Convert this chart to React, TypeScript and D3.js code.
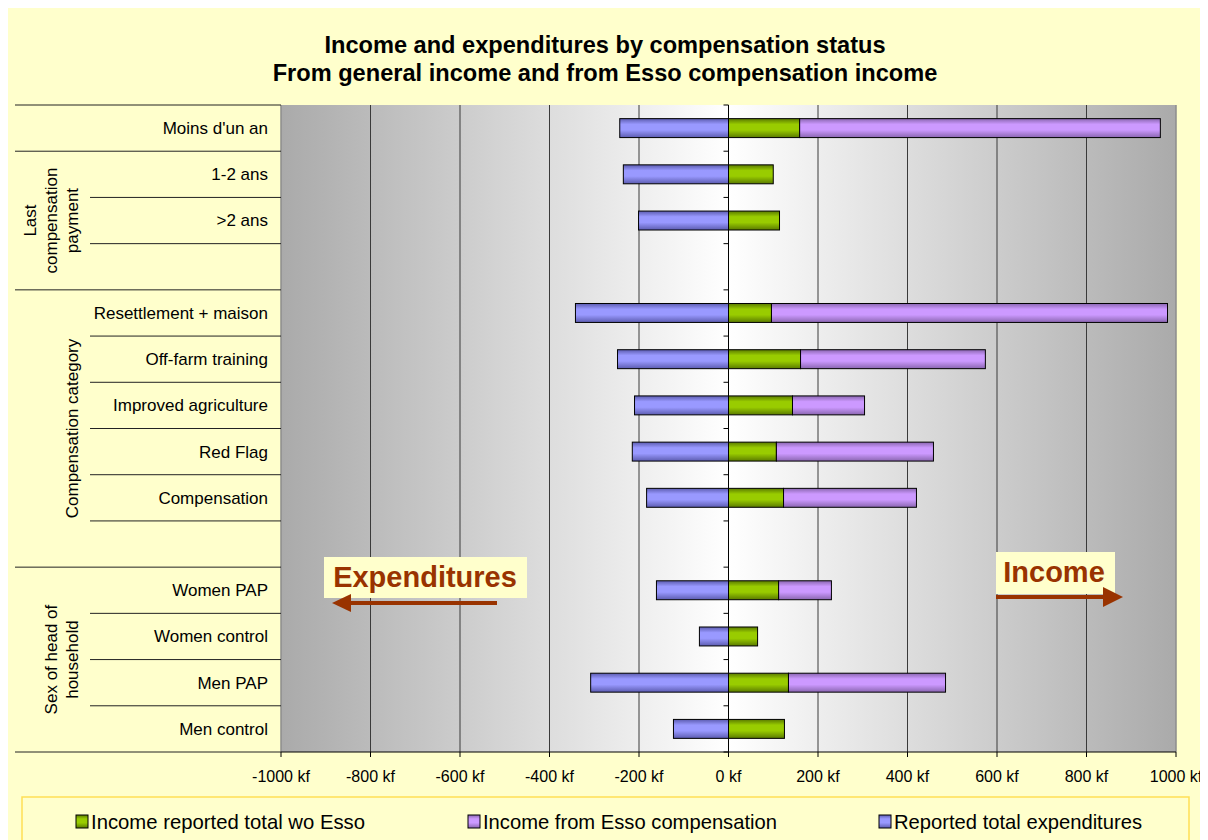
import React from "react";
import * as d3 from "d3";

const categories = [
  "Moins d'un an", "1-2 ans", ">2 ans", "",
  "Resettlement + maison", "Off-farm training", "Improved agriculture", "Red Flag", "Compensation", "",
  "Women PAP", "Women control", "Men PAP", "Men control",
];
const incomeWoEsso = [159, 100, 114, 0, 96, 161, 143, 107, 123, 0, 112, 65, 134, 125];
const incomeEsso = [806, 0, 0, 0, 885, 413, 161, 351, 297, 0, 118, 0, 351, 0];
const expenditures = [-243, -235, -201, 0, -342, -248, -210, -215, -183, 0, -161, -65, -308, -123];

const groupLabels = [[], ["Last", "compensation", "payment"], ["Compensation category"], ["Sex of head of", "household"]];
const groupStarts = [0, 1, 4, 10];
const groupEnds = [1, 4, 10, 14];

const xTicks = [-1000, -800, -600, -400, -200, 0, 200, 400, 600, 800, 1000];

const seriesNames = ["Income reported total wo Esso", "Income from Esso compensation", "Reported total expenditures"];
const seriesColors = ["#99cc00", "#cc99ff", "#9999ff"];
const seriesDark = ["#5a7a00", "#8a66b0", "#5c5cb0"];

const FONT = "Arial, 'Liberation Sans', Helvetica, sans-serif";

export default function App() {
  const x = d3.scaleLinear().domain([-1000, 1000]).range([281, 1176]);
  const keys = categories.map((_, i) => String(i));
  const y = d3.scaleBand<string>().domain(keys).range([105, 752]).padding(0);
  const bw = y.bandwidth();
  const barH = bw * 0.41;
  const x0 = x(0);
  const top = 105, bottom = 752, left = 281, right = 1176;

  const bars: any[] = [];
  categories.forEach((c, i) => {
    const yc = (y(String(i)) as number) + bw / 2;
    const y0 = yc - barH / 2;
    if (expenditures[i] < 0) {
      bars.push({ x: x(expenditures[i]), w: x0 - x(expenditures[i]), y: y0, s: 2 });
    }
    if (incomeWoEsso[i] > 0) {
      bars.push({ x: x0, w: x(incomeWoEsso[i]) - x0, y: y0, s: 0 });
    }
    if (incomeEsso[i] > 0) {
      bars.push({ x: x(incomeWoEsso[i]), w: x(incomeWoEsso[i] + incomeEsso[i]) - x(incomeWoEsso[i]), y: y0, s: 1 });
    }
  });

  const boundaries = d3.range(categories.length + 1).map((i) => top + i * bw);
  const fullBounds = new Set([0, ...groupEnds]);

  const legendTextX = [91, 483, 894];
  const legendTextW = [274, 294, 248];

  return (
    <svg width={1200} height={832} style={{ display: "block" }} fontFamily={FONT}>
      <defs>
        <linearGradient id="bg" x1="0" x2="1" y1="0" y2="0">
          <stop offset="0" stopColor="#aaaaaa" />
          <stop offset="0.5" stopColor="#ffffff" />
          <stop offset="1" stopColor="#aaaaaa" />
        </linearGradient>
        {seriesColors.map((c, i) => (
          <linearGradient key={i} id={"g" + i} x1="0" x2="0" y1="0" y2="1">
            <stop offset="0" stopColor={seriesDark[i]} />
            <stop offset="0.3" stopColor={c} />
            <stop offset="0.6" stopColor={c} />
            <stop offset="1" stopColor={seriesDark[i]} />
          </linearGradient>
        ))}
      </defs>
      <g transform="translate(-8,-8)">
        <rect x={8} y={8} width={1200} height={840} fill="#ffffcc" />
        {/* title */}
        <text x={605} y={53} textAnchor="middle" fontWeight="bold" fontSize={23.6}>Income and expenditures by compensation status</text>
        <text x={605} y={81} textAnchor="middle" fontWeight="bold" fontSize={23.6}>From general income and from Esso compensation income</text>

        {/* plot area */}
        <rect x={left} y={top} width={right - left} height={bottom - top} fill="url(#bg)" />
        <line x1={left} x2={left} y1={top} y2={bottom} stroke="#8c8c8c" strokeWidth={1.5} />
        <line x1={right} x2={right} y1={top} y2={bottom} stroke="#8c8c8c" strokeWidth={1.5} />
        {xTicks.filter((t) => t !== 0 && Math.abs(t) !== 1000).map((t) => (
          <line key={t} x1={x(t)} x2={x(t)} y1={top} y2={bottom} stroke="#3a3a3a" strokeWidth={1} />
        ))}

        {/* left category grid */}
        {boundaries.map((b, i) => (
          <line key={i} x1={fullBounds.has(i) ? 15 : 90} x2={left} y1={b} y2={b} stroke="#222" strokeWidth={1} />
        ))}
        {categories.map((c, i) => (
          <text key={i} x={268} y={(y(String(i)) as number) + bw / 2} dy="0.35em" textAnchor="end" fontSize={17} fill="#000">{c}</text>
        ))}
        {groupLabels.map((lines, gi) => {
          const yc = (boundaries[groupStarts[gi]] + boundaries[groupEnds[gi]]) / 2;
          return lines.map((ln, li) => {
            const xc = 72 - (lines.length - 1 - li) * 21;
            return (
              <text key={gi + "-" + li} transform={`translate(${xc + 6},${yc}) rotate(-90)`} textAnchor="middle" fontSize={17}>{ln}</text>
            );
          });
        })}

        {/* bars */}
        {bars.map((b, i) => (
          <rect key={i} x={b.x} y={b.y} width={b.w} height={barH} fill={`url(#g${b.s})`} stroke="#000" strokeWidth={1} />
        ))}

        {/* y axis at 0 */}
        <line x1={x0} x2={x0} y1={top} y2={bottom} stroke="#000" strokeWidth={1} />
        {boundaries.map((b, i) => (
          <line key={i} x1={x0 - 5} x2={x0} y1={b} y2={b} stroke="#000" strokeWidth={1} />
        ))}

        {/* x axis */}
        <line x1={left} x2={right} y1={bottom} y2={bottom} stroke="#000" strokeWidth={1} />
        {xTicks.map((t) => (
          <g key={t}>
            <line x1={x(t)} x2={x(t)} y1={bottom} y2={bottom + 5} stroke="#000" />
            <text x={x(t)} y={782} textAnchor="middle" fontSize={16}>{t + " kf"}</text>
          </g>
        ))}

        {/* annotations */}
        <rect x={324} y={557} width={203} height={41} fill="#ffffcc" />
        <text x={425} y={587} textAnchor="middle" fontWeight="bold" fontSize={29} fill="#993300">Expenditures</text>
        <line x1={497} x2={348} y1={603} y2={603} stroke="#993300" strokeWidth={4} />
        <path d="M332,603 L351,594 L351,612 Z" fill="#993300" />

        <rect x={996} y={552} width={119} height={42} fill="#ffffcc" />
        <text x={1054} y={582} textAnchor="middle" fontWeight="bold" fontSize={29} fill="#993300">Income</text>
        <line x1={996} x2={1105} y1={597} y2={597} stroke="#993300" strokeWidth={4} />
        <path d="M1123,597 L1103,587 L1103,607 Z" fill="#993300" />

        {/* legend */}
        <rect x={22} y={797} width={1167} height={60} fill="#ffffcc" stroke="#ffdf55" strokeWidth={1.5} />
        {seriesNames.map((n, i) => (
          <g key={i}>
            <rect x={legendTextX[i] - 15} y={815} width={12} height={13} fill={`url(#g${i})`} stroke="#000" strokeWidth={1} />
            <text x={legendTextX[i]} y={829} fontSize={21} textLength={legendTextW[i]} lengthAdjust="spacingAndGlyphs">{n}</text>
          </g>
        ))}
      </g>
    </svg>
  );
}
